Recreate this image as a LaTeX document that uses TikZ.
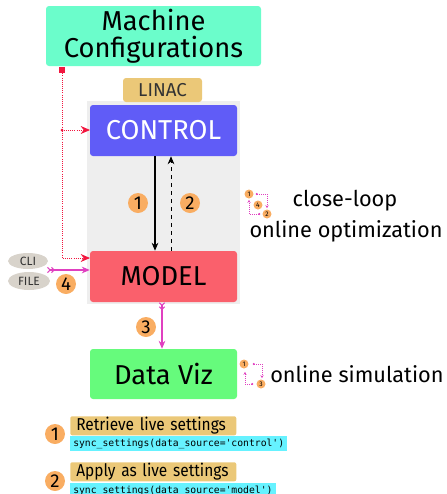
\documentclass[tikz,border=0pt]{standalone}
\usepackage{fontspec}
\setmainfont{Fira Sans}
\setmonofont{DejaVu Sans Mono}
\newfontfamily\notefont{Fira Sans}[FakeStretch=0.9]
\usetikzlibrary{arrows.meta,shapes.geometric}

\newlength{\du}
\setlength{\du}{0.75pt}

\definecolor{cfgcolor}{HTML}{6BFDCB}
\definecolor{linaccolor}{HTML}{EBC878}
\definecolor{ctrlcolor}{HTML}{605CF7}
\definecolor{modelcolor}{HTML}{FA606C}
\definecolor{vizcolor}{HTML}{66FB7C}
\definecolor{numcolor}{HTML}{F9AD62}
\definecolor{codecolor}{HTML}{66F2FF}
\definecolor{srccolor}{HTML}{D8D3CB}
\definecolor{bgcolor}{HTML}{EEEEEE}
\definecolor{cfgline}{HTML}{F2163F}
\definecolor{feedcolor}{HTML}{E040C0}

\tikzset{
  blockbox/.style={rounded corners=3\du, minimum width=147\du, minimum height=51\du,
    inner sep=0pt, font=\fontsize{20.5}{22}\selectfont},
  numdot/.style={circle, fill=numcolor, inner sep=0pt, minimum size=20\du,
    font=\fontsize{14}{14}\selectfont},
  tinydot/.style={circle, fill=numcolor, inner sep=0pt, minimum size=9\du,
    font=\fontsize{5}{5}\selectfont},
  srcnode/.style={ellipse, fill=srccolor, inner sep=0pt, text=black!80,
    font=\fontsize{9}{9}\selectfont},
  cfgwire/.style={draw=cfgline, densely dotted, line width=0.6pt},
  feedwire/.style={draw=feedcolor, line width=0.8pt,
    {Straight Barb[reversed,length=2pt]Straight Barb[reversed,length=2pt]}-{Stealth[length=6pt,width=5pt]}},
  iconwire/.style={draw=feedcolor, densely dotted, line width=0.5pt,
    {Circle[length=1.5pt]}-{Stealth[length=2.25pt,width=2.25pt]}},
  notebox/.style={anchor=north west, fill=linaccolor, rounded corners=2\du, inner xsep=6\du,
    inner ysep=0pt, text width=154\du, minimum height=19\du, align=left,
    font=\notefont\fontsize{12.9}{12.9}\selectfont},
  codebox/.style={anchor=north west, fill=codecolor, inner xsep=3\du, inner ysep=0pt,
    minimum height=15\du, font=\ttfamily\fontsize{7.3}{7.3}\selectfont},
  sidetext/.style={font=\fontsize{16.3}{16.3}\selectfont}
}

\begin{document}
\begin{tikzpicture}
\pgftransformyscale{-1}
\useasboundingbox (0\du,0\du) rectangle (447\du,494\du);
\clip (0\du,0\du) rectangle (447\du,494\du);

% background of the linac part
\fill[bgcolor] (87\du,101\du) rectangle (240\du,304\du);

% boxes
\node[blockbox, fill=cfgcolor, minimum width=215\du, minimum height=60\du, align=center,
  font=\fontsize{20.5}{20.5}\selectfont] (cfg) at (153.5\du,36\du) {Machine\\Configurations};
\node[fill=linaccolor, rounded corners=3\du, minimum width=79\du, minimum height=24\du,
  inner sep=0pt, text=black!80, font=\fontsize{14}{14}\selectfont] (linac) at (162.5\du,90\du) {LINAC};
\node[blockbox, fill=ctrlcolor, text=white] (ctrl) at (163.5\du,130.5\du) {CONTROL};
\node[blockbox, fill=modelcolor] (model) at (163.5\du,276.5\du) {MODEL};
\node[blockbox, fill=vizcolor, minimum height=50\du] (viz) at (163.5\du,374\du) {Data Viz};

% inputs
\node[srcnode, minimum width=40\du, minimum height=16\du] (cli) at (28\du,261\du) {CLI};
\node[srcnode, minimum width=42\du, minimum height=18\du] (file) at (29\du,281\du) {FILE};
\coordinate (srcout) at (47\du,270\du);

% config wires
\node[fill=cfgline, inner sep=0pt, minimum size=6\du] (cfgport) at (62\du,70\du) {};
\node[circle, fill=cfgline, inner sep=0pt, minimum size=3\du] (cfgfork) at (62\du,130\du) {};
\coordinate (ctrlin) at (90\du,130\du);
\coordinate (modelin) at (90\du,258\du);
\draw[cfgwire, -{Stealth[length=7pt,width=6pt]}] (cfgport) -- (cfgport |- modelin) -- (modelin);
\draw[cfgwire, -{Stealth[length=7pt,width=6pt]}] (cfgfork) -- (ctrlin);

% sync arrows
\draw[line width=0.8pt, -{Stealth[length=6pt,width=5pt]}] ([xshift=-8.5\du]ctrl.south) -- ([xshift=-8.5\du]model.north);
\draw[line width=0.6pt, dashed, -{Stealth[length=6pt,width=5pt]}] ([xshift=7.5\du]model.north) -- ([xshift=7.5\du]ctrl.south);
\node[numdot] (n1) at (138\du,203\du) {1};
\node[numdot] (n2) at (190\du,203\du) {2};

% feed arrows
\draw[feedwire] (srcout) -- (srcout -| model.west);
\draw[feedwire] ([xshift=-1.5\du]model.south) -- ([xshift=-1.5\du]viz.north);
\node[numdot] (n4) at (66\du,284\du) {4};
\node[numdot] (n3) at (146\du,327\du) {3};

% close-loop icon
\node[tinydot] (cla) at (249\du,194\du) {1};
\node[tinydot] (clb) at (258\du,205\du) {4};
\node[tinydot] (clc) at (267\du,214\du) {2};
\draw[iconwire] ([xshift=2\du]cla.east) -| ([yshift=-1\du]clc.north);
\draw[iconwire] ([xshift=-2\du]clc.west) -| ([yshift=1\du]cla.south);
\node[sidetext] (cltxt) at (345\du,201\du) {close-loop};
\node[sidetext] (optxt) at (346\du,231\du) {online optimization};

% online simulation icon
\node[tinydot] (sma) at (244\du,364\du) {1};
\node[tinydot] (smb) at (261\du,384\du) {3};
\draw[iconwire] ([xshift=4\du]sma.east) -| ([yshift=-1\du, xshift=1\du]smb.north);
\draw[iconwire] ([xshift=-3\du]smb.west) -| ([yshift=3\du, xshift=1\du]sma.south);
\node[sidetext, anchor=west, inner xsep=0pt] (smtxt) at (270\du,374\du) {online simulation};

% legend
\node[numdot] (l1) at (55\du,434\du) {1};
\node[notebox] (l1txt) at (70\du,416\du) {\mbox{Retrieve live settings}};
\node[codebox] (l1code) at (70\du,436\du) {sync\_settings(data\_source='control')};
\node[numdot] (l2) at (55\du,481\du) {2};
\node[notebox] (l2txt) at (70\du,462\du) {\mbox{Apply as live settings}};
\node[codebox] (l2code) at (70\du,483\du) {sync\_settings(data\_source='model')};
\end{tikzpicture}
\end{document}
